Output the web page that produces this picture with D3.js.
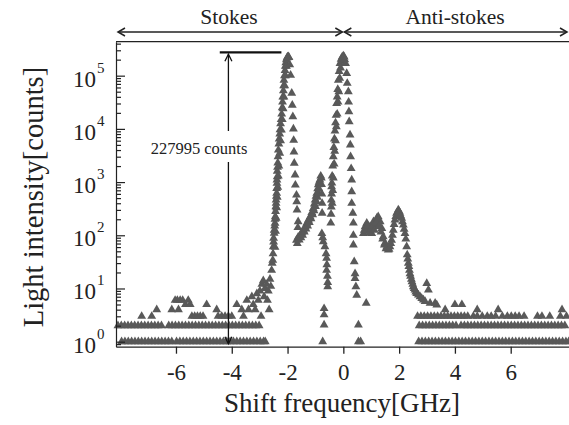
<!DOCTYPE html>
<html>
<head>
<meta charset="utf-8">
<script src="https://cdn.jsdelivr.net/npm/d3@7"></script>
<style>
  body { margin: 0; background: #fff; }
</style>
</head>
<body>
<script>
// Brillouin spectrum, counts vs shift frequency (GHz).

// background rows: GHz positions where the count is 1, 2 or 3
var stokesFloor1 = [-7.95,-7.83,-7.71,-7.59,-7.47,-7.35,-7.23,-7.11,-6.99,-6.87,-6.75,-6.63,-6.51,-6.39,-6.27,-6.15,-5.98,-5.86,-5.74,-5.62,-5.50,-5.38,-5.26,-5.14,-5.02,-4.90,-4.78,-4.66,-4.54,-4.42,-4.30,-4.18,-4.06,-3.94,-3.82,-3.70,-3.58,-3.46,-3.34,-3.22,-3.10,-2.98,-2.86,-2.80];
var stokesFloor2 = [-8.08,-7.96,-7.84,-7.72,-7.60,-7.48,-7.36,-7.24,-7.12,-7.00,-6.88,-6.76,-6.64,-6.52,-6.26,-6.14,-6.02,-5.90,-5.78,-5.66,-5.54,-5.42,-5.30,-5.18,-5.06,-4.94,-4.82,-4.70,-4.58,-4.46,-4.34,-4.22,-4.10,-3.98,-3.86,-3.74,-3.62,-3.50,-3.38,-3.26,-3.14,-3.02];
var antiFloor1 = [2.70,2.82,2.94,3.06,3.18,3.30,3.42,3.54,3.66,3.78,3.90,4.02,4.14,4.26,4.38,4.50,4.62,4.74,4.86,4.98,5.10,5.22,5.34,5.46,5.58,5.70,5.82,5.94,6.06,6.18,6.30,6.42,6.54,6.66,6.78,6.90,7.02,7.14,7.26,7.38,7.50,7.62,7.74,7.86,7.98,8.08];
var antiFloor2 = [2.72,2.84,2.96,3.08,3.20,3.32,3.44,3.56,3.68,3.80,3.92,4.04,4.22,4.34,4.46,4.58,4.70,4.82,4.94,5.06,5.18,5.30,5.42,5.54,5.66,5.78,5.90,6.02,6.14,6.26,6.38,6.50,6.62,6.74,6.86,6.98,7.10,7.22,7.34,7.46,7.58,7.70,7.82,7.94];
var antiFloor3 = [2.66,2.78,2.90,3.02,3.14,3.26,3.38,3.50,3.62,3.74,3.86,3.98,4.10,4.22,4.34,4.46,4.66,4.80,4.98,5.16,5.30,5.46,5.70,5.88,6.02,6.16,6.30,6.48,6.96,7.12,7.40,7.78,8.00];

// [GHz, counts]
var stokesScatter = [[-7.23,3],[-6.87,3],[-6.69,4],[-6.15,4],[-6.03,6],[-5.95,6],[-5.91,4],[-5.85,6],[-5.76,6],[-5.66,5],[-5.56,6],[-5.49,5],[-5.43,3],[-5.33,3],[-5.23,3],[-5.13,3],[-5.03,3],[-4.90,5],[-4.54,4],[-4.49,3],[-4.36,3],[-4.24,3],[-4.12,3],[-4.00,3],[-3.82,5],[-3.64,4],[-3.58,3],[-3.46,6],[-3.40,4],[-3.28,7],[-3.23,5],[-3.16,4],[-3.10,8],[-3.05,6],[-2.99,9],[-2.95,3],[-2.92,12],[-2.87,14],[-2.84,7],[-2.81,10],[-2.75,12],[-2.72,6],[-2.69,9],[-2.66,4],[-2.63,15],[-2.60,11]];
var stokesRise = [[-2.57,22],[-2.55,30],[-2.53,34],[-2.52,45],[-2.51,61],[-2.50,75],[-2.50,88],[-2.48,110],[-2.48,125],[-2.46,150],[-2.45,169],[-2.45,200],[-2.44,224],[-2.43,280],[-2.42,345],[-2.41,400],[-2.41,460],[-2.40,540],[-2.39,620],[-2.39,760],[-2.38,950],[-2.38,1100],[-2.37,1260],[-2.37,1600],[-2.36,1900],[-2.35,2300],[-2.34,3000],[-2.33,4000],[-2.31,5200],[-2.30,6500],[-2.28,8000],[-2.27,9600],[-2.25,12500],[-2.23,15000],[-2.21,19000],[-2.19,25000],[-2.18,32000],[-2.17,40000],[-2.15,52000],[-2.14,65000],[-2.13,82000],[-2.11,100000],[-2.09,125000],[-2.08,150000],[-2.06,175000],[-2.04,200000],[-2.02,215000],[-2.00,225000],[-1.97,228000],[-1.95,220000],
  [-2.45,60],[-2.43,120],[-2.41,210],[-2.39,330],[-2.37,520],[-2.35,800],[-2.33,1300],[-2.31,2000],[-2.28,3500],[-2.25,6000],[-2.22,9500],[-2.19,15000],[-2.16,24000],[-2.13,40000],[-2.10,65000],[-2.07,100000],[-2.04,150000]];
var stokesFall = [[-1.92,160000],[-1.89,102000],[-1.85,47000],[-1.83,28000],[-1.81,17000],[-1.79,10000],[-1.78,6100],[-1.77,3700],[-1.76,2260],[-1.73,1360],[-1.72,880],[-1.68,570],[-1.67,430],[-1.66,300],[-1.62,180],[-1.63,140]];
var hump = [[-1.68,81],[-1.62,92],[-1.55,101],[-1.49,112],[-1.43,125],[-1.37,145],[-1.31,169],[-1.25,195],[-1.19,224],[-1.13,270],[-1.08,320],[-1.04,390],[-1.01,460],[-0.98,540],[-0.95,620],[-0.92,750],[-0.90,890],[-0.87,1000],[-0.84,1100],[-0.81,1300],[-0.79,1200],
  [-1.65,70],[-1.58,82],[-1.52,90],[-1.46,100],[-1.40,115],[-1.34,132],[-1.28,150],[-1.22,175],[-1.16,205],[-1.10,245],[-1.05,290],[-1.00,350],[-0.96,430],[-0.93,520],[-0.90,640],[-0.88,760],[-0.85,900],
  [-0.78,900],[-0.77,600],[-0.76,400],[-0.76,260],[-0.77,108],[-0.74,90],[-0.72,76],[-0.66,61],[-0.62,45],[-0.60,37],[-0.59,28],[-0.60,22],[-0.57,17],[-0.56,13],[-0.56,10.8],[-0.69,4.2],[-0.69,3.2],[-0.69,2.06],[-0.74,1]];
var centralPeak = [[-0.45,170],[-0.44,250],[-0.43,340],[-0.43,460],[-0.42,600],[-0.42,820],[-0.41,960],[-0.40,1300],[-0.38,2000],[-0.36,3000],[-0.34,4500],[-0.32,6500],[-0.30,9100],[-0.28,13000],[-0.26,18000],[-0.24,30000],[-0.22,40000],[-0.20,55000],[-0.18,82000],[-0.15,120000],[-0.12,170000],[-0.08,205000],[-0.04,225000],[0.00,235000],
  [-0.40,400],[-0.38,700],[-0.36,1200],[-0.33,2200],[-0.31,3800],[-0.28,6000],[-0.25,11000],[-0.22,19000],[-0.19,32000],[-0.16,50000],[-0.13,90000],[-0.10,140000],[-0.06,190000],[0.03,225000],
  [0.05,200000],[0.08,170000],[0.12,110000],[0.14,72000],[0.18,50000],[0.19,32000],[0.20,21000],[0.21,13700],[0.24,7700],[0.25,5000],[0.26,3000],[0.28,1800],[0.30,1100],[0.30,660],[0.30,400],[0.34,260],[0.36,170],[0.36,100],[0.36,66],[0.39,32],[0.42,19],[0.42,15.5],[0.45,10.8],[0.48,7.5],[0.54,2.06],[0.54,1],[0.62,1],[0.82,5.3]];
var antiBump = [[0.72,108],[0.78,145],[0.84,169],[0.90,125],[0.96,145],[1.02,108],[1.08,180],[1.14,145],[1.20,210],[1.25,224],[1.32,180],[1.38,135],[1.43,94],[1.49,71],[1.56,61],[1.61,53],[1.67,61],[1.73,81],[1.79,125],[1.85,195],[1.91,260],[1.97,300],[2.03,260],[2.09,210],[2.15,156],[2.21,108],[2.27,61],[2.29,43],[2.33,30],[2.37,22],[2.41,17],[2.46,13.4],[2.51,10.8],[2.57,9.4],[2.63,8.1],[2.75,7],[2.87,6.1],[2.99,12.5],[3.05,9.4],[3.11,5.3],[3.29,5.3],[3.35,4.9],
  [0.75,125],[0.81,120],[0.88,150],[0.93,110],[0.99,130],[1.05,150],[1.11,125],[1.17,170],[1.23,190],[1.29,150],[1.35,115],[1.41,85],[1.47,66],[1.53,56],[1.64,55],[1.70,70],[1.76,100],[1.82,160],[1.88,225],[1.94,270],[2.00,280],[2.06,230],[2.12,180],[2.18,130],[2.24,85],[2.31,36],[2.35,26],[2.39,19],[2.44,15],[2.49,12],[2.54,10],[2.60,8.6],[2.69,7.6],[2.81,6.5],[2.93,5.7],
  [3.65,4],[4.00,5],[4.25,5],[4.80,4],[5.55,4],[7.84,4]];

var W = 569, H = 425;
var serif = "'Liberation Serif', 'Times New Roman', serif";
var svg = d3.select("body").append("svg").attr("width", W).attr("height", H)
    .attr("font-family", serif);

var x = d3.scaleLinear().domain([-8.15, 8.09]).range([116, 569]);
var y = d3.scaleLog().domain([0.805, 435000]).range([346.7, 41.7]);

// collect points
var pts = [];
stokesFloor1.forEach(function (g) { pts.push([g, 1]); });
stokesFloor2.forEach(function (g) { pts.push([g, 2]); });
antiFloor1.forEach(function (g) { pts.push([g, 1]); });
antiFloor2.forEach(function (g) { pts.push([g, 2]); });
antiFloor3.forEach(function (g) { pts.push([g, 3]); });
pts = pts.concat(stokesScatter, stokesRise, stokesFall, hump, centralPeak, antiBump);

var tri = d3.symbol().type(d3.symbolTriangle).size(34);
svg.append("g")
    .selectAll("path")
    .data(pts)
    .enter()
    .append("path")
    .attr("d", tri)
    .attr("fill", "#595959")
    .attr("transform", function (d) {
        return "translate(" + x(d[0]) + "," + y(d[1]) + ")";
    });

// frame: top line
svg.append("line")
    .attr("x1", 116).attr("x2", W).attr("y1", 41.7).attr("y2", 41.7)
    .attr("stroke", "#222").attr("stroke-width", 1.3);

// x axis
var xAxis = svg.append("g")
    .attr("transform", "translate(0,346.7)")
    .call(d3.axisBottom(x).tickValues([-6, -4, -2, 0, 2, 4, 6])
        .tickSize(7).tickSizeOuter(0).tickPadding(10)
        .tickFormat(function (d) { return String(d); }));
xAxis.attr("font-family", serif);
xAxis.selectAll("path, line").attr("stroke", "#222").attr("stroke-width", 1.3);
xAxis.selectAll("text").attr("font-size", 23).attr("fill", "#222");

// y axis, ticks pointing into the plot
var yAxis = svg.append("g")
    .attr("transform", "translate(116,0)")
    .call(d3.axisRight(y).tickValues(y.ticks()).tickSize(5).tickSizeOuter(0).tickFormat(""));
yAxis.selectAll("path, line").attr("stroke", "#222").attr("stroke-width", 1.2);
yAxis.selectAll(".tick line").attr("x2", function (d) {
    return Math.abs(Math.log10(d) - Math.round(Math.log10(d))) < 1e-9 ? 9 : 5;
});

var decades = [0, 1, 2, 3, 4, 5];
var ylab = svg.append("g").attr("fill", "#222");
decades.forEach(function (p) {
    var yy = y(Math.pow(10, p));
    ylab.append("text").attr("x", 96).attr("y", yy + 11)
        .attr("text-anchor", "end").attr("font-size", 23).text("10");
    ylab.append("text").attr("x", 97).attr("y", yy - 3)
        .attr("font-size", 15).text(p);
});

// axis titles
svg.append("text")
    .attr("x", 342).attr("y", 412).attr("fill", "#222")
    .attr("text-anchor", "middle").attr("font-size", 27)
    .text("Shift frequency[GHz]");
svg.append("text")
    .attr("transform", "translate(43,197) rotate(-90)").attr("fill", "#222")
    .attr("text-anchor", "middle").attr("font-size", 28.5)
    .text("Light intensity[counts]");

// Stokes / Anti-stokes arrows on top
var ay = 32;
var arr = svg.append("g").attr("stroke", "#222").attr("stroke-width", 1.5).attr("fill", "none");
function hArrow(x1, x2) {
    arr.append("line").attr("x1", x1).attr("x2", x2).attr("y1", ay).attr("y2", ay);
    arr.append("path").attr("d", "M" + (x1 + 7) + "," + (ay - 4) + "L" + x1 + "," + ay + "L" + (x1 + 7) + "," + (ay + 4));
    arr.append("path").attr("d", "M" + (x2 - 7) + "," + (ay - 4) + "L" + x2 + "," + ay + "L" + (x2 - 7) + "," + (ay + 4));
}
hArrow(118, x(0) - 1);
hArrow(x(0) + 1, 567);
svg.append("text").attr("x", 229).attr("y", 24).attr("text-anchor", "middle").attr("fill", "#222")
    .attr("font-size", 21.5).text("Stokes");
svg.append("text").attr("x", 455).attr("y", 24).attr("text-anchor", "middle").attr("fill", "#222")
    .attr("font-size", 21.5).text("Anti-stokes");

// peak height annotation
var peakCounts = 227995;
var ax = x(-4.12);
var topY = y(peakCounts) - 4.3;
svg.append("line").attr("x1", x(-4.43)).attr("x2", x(-2.22)).attr("y1", topY).attr("y2", topY)
    .attr("stroke", "#111").attr("stroke-width", 2.2);
var ann = svg.append("g").attr("stroke", "#111").attr("stroke-width", 1.3).attr("fill", "none");
ann.append("line").attr("x1", ax).attr("x2", ax).attr("y1", topY + 2).attr("y2", 131);
ann.append("line").attr("x1", ax).attr("x2", ax).attr("y1", 162).attr("y2", y(1) + 2);
ann.append("path").attr("d", "M" + (ax - 3.5) + "," + (topY + 9) + "L" + ax + "," + (topY + 2) + "L" + (ax + 3.5) + "," + (topY + 9));
ann.append("path").attr("d", "M" + (ax - 3.5) + "," + (y(1) - 5) + "L" + ax + "," + (y(1) + 2) + "L" + (ax + 3.5) + "," + (y(1) - 5));
svg.append("text").attr("x", 199).attr("y", 153.5).attr("text-anchor", "middle").attr("fill", "#222")
    .attr("font-size", 16.5).text(peakCounts + " counts");
</script>
</body>
</html>
